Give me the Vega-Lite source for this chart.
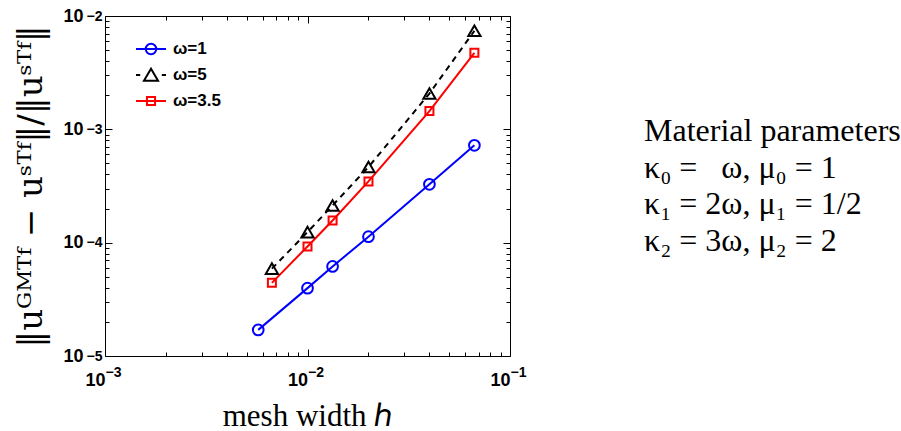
{
  "$schema": "https://vega.github.io/schema/vega-lite/v6.json",
  "background": "white",
  "padding": {"left": 14, "top": 7, "right": 0, "bottom": 0},
  "config": {
    "view": {"stroke": null},
    "concat": {"spacing": 117},
    "axis": {"labelFont": "Liberation Sans", "labelFontWeight": "bold", "labelColor": "black"}
  },
  "datasets": {
    "err": [
      {"series": "ω=1", "h": 0.00571, "err": 1.70e-5},
      {"series": "ω=1", "h": 0.01, "err": 3.97e-5},
      {"series": "ω=1", "h": 0.0133, "err": 6.17e-5},
      {"series": "ω=1", "h": 0.02, "err": 1.13e-4},
      {"series": "ω=1", "h": 0.04, "err": 3.27e-4},
      {"series": "ω=1", "h": 0.0667, "err": 7.22e-4},
      {"series": "ω=5", "h": 0.00667, "err": 5.9e-5},
      {"series": "ω=5", "h": 0.01, "err": 1.24e-4},
      {"series": "ω=5", "h": 0.0133, "err": 2.13e-4},
      {"series": "ω=5", "h": 0.02, "err": 4.65e-4},
      {"series": "ω=5", "h": 0.04, "err": 2.07e-3},
      {"series": "ω=5", "h": 0.0667, "err": 7.4e-3},
      {"series": "ω=3.5", "h": 0.00667, "err": 4.42e-5},
      {"series": "ω=3.5", "h": 0.01, "err": 9.26e-5},
      {"series": "ω=3.5", "h": 0.0133, "err": 1.57e-4},
      {"series": "ω=3.5", "h": 0.02, "err": 3.47e-4},
      {"series": "ω=3.5", "h": 0.04, "err": 1.45e-3},
      {"series": "ω=3.5", "h": 0.0667, "err": 4.73e-3}
    ],
    "params": [
      {"row": 0, "text": "Material parameters"},
      {"row": 1, "text": "κ₀ = \u2007ω,  μ₀ = 1"},
      {"row": 2, "text": "κ₁ = 2ω,  μ₁ = 1/2"},
      {"row": 3, "text": "κ₂ = 3ω,  μ₂ = 2"}
    ]
  },
  "hconcat": [
    {
      "width": 405,
      "height": 340,
      "data": {"name": "err"},
      "encoding": {
        "x": {"field": "h", "type": "quantitative", "scale": {"type": "log", "domain": [0.001, 0.1], "nice": false}, "axis": null},
        "y": {"field": "err", "type": "quantitative", "scale": {"type": "log", "domain": [0.00001, 0.01], "nice": false}, "axis": null},
        "color": {
          "field": "series", "type": "nominal",
          "scale": {"domain": ["ω=1", "ω=5", "ω=3.5"], "range": ["#0000ff", "#000000", "#ff0000"]},
          "legend": {
            "orient": "none", "legendX": 30, "legendY": 17,
            "title": null, "padding": 0,
            "labelFont": "Liberation Sans", "labelFontWeight": "bold", "labelFontSize": 17, "labelColor": "black",
            "labelOffset": 6, "symbolSize": 900, "rowPadding": -2,
            "symbolStrokeWidth": 2, "symbolFillColor": "transparent",
            "encode": {
              "symbols": {
                "update": {
                  "shape": {"signal": "datum.value === 'ω=1' ? 'M-1,0H1M0.35,0A0.35,0.35,0,1,1,-0.35,0A0.35,0.35,0,1,1,0.35,0' : datum.value === 'ω=5' ? 'M-1,0H-0.72M0.72,0H1M0,-0.42L-0.47,0.38L0.47,0.38Z' : 'M-1,0H1M-0.27,-0.27H0.27V0.27H-0.27Z'"},
                  "size": {"value": 900},
                  "strokeWidth": {"value": 2},
                  "fill": {"value": "transparent"}
                }
              }
            }
          }
        }
      },
      "layer": [
        {
          "transform": [{"filter": "datum.series !== 'ω=5'"}],
          "mark": {"type": "line", "strokeWidth": 2},
          "encoding": {
            "x": {
              "field": "h", "type": "quantitative",
              "axis": {
                "orient": "bottom",
                "values": [0.001, 0.002, 0.003, 0.004, 0.005, 0.006, 0.007, 0.008, 0.009, 0.01, 0.02, 0.03, 0.04, 0.05, 0.06, 0.07, 0.08, 0.09, 0.1],
                "labelExpr": "abs(log(datum.value)/LN10 - round(log(datum.value)/LN10)) < 1e-6 ? '10' : ''",
                "labelFont": "Liberation Sans", "labelFontWeight": "bold", "labelFontSize": 18, "labelColor": "black",
                "labelPadding": 22, "labelAlign": "right", "labelOverlap": false, "labelFlush": false,
                "tickColor": "black",
                "tickSize": {"condition": {"test": "abs(log(datum.value)/LN10 - round(log(datum.value)/LN10)) < 1e-6", "value": -7}, "value": -4},
                "domainColor": "black", "grid": false,
                "title": "mesh width ℎ", "titleFont": "Liberation Serif", "titleFontSize": 31, "titleFontWeight": "normal", "titleColor": "black", "titlePadding": 9
              }
            },
            "y": {
              "field": "err", "type": "quantitative",
              "axis": {
                "orient": "left",
                "values": [0.00001, 0.00002, 0.00003, 0.00004, 0.00005, 0.00006, 0.00007, 0.00008, 0.00009, 0.0001, 0.0002, 0.0003, 0.0004, 0.0005, 0.0006, 0.0007, 0.0008, 0.0009, 0.001, 0.002, 0.003, 0.004, 0.005, 0.006, 0.007, 0.008, 0.009, 0.01],
                "labelExpr": "abs(log(datum.value)/LN10 - round(log(datum.value)/LN10)) < 1e-6 ? '10' : ''",
                "labelFont": "Liberation Sans", "labelFontWeight": "bold", "labelFontSize": 18, "labelColor": "black",
                "labelPadding": 29, "labelDy": 1, "labelOverlap": false, "labelFlush": false,
                "tickColor": "black",
                "tickSize": {"condition": {"test": "abs(log(datum.value)/LN10 - round(log(datum.value)/LN10)) < 1e-6", "value": -7}, "value": -4},
                "domainColor": "black", "grid": false,
                "title": "‖uᴳᴹᵀᶠ − uˢᵀᶠ‖/‖uˢᵀᶠ‖", "titleFont": "DejaVu Serif", "titleFontSize": 34, "titleFontWeight": "normal", "titleColor": "black", "titlePadding": 14
              }
            }
          }
        },
        {
          "transform": [{"filter": "datum.series === 'ω=5'"}],
          "mark": {"type": "line", "strokeWidth": 2, "strokeDash": [6, 5]},
          "encoding": {
            "x": {
              "field": "h", "type": "quantitative",
              "axis": {
                "orient": "bottom", "values": [0.001, 0.01, 0.1],
                "labelExpr": "'−' + (-round(log(datum.value)/LN10))",
                "labelFont": "Liberation Sans", "labelFontWeight": "bold", "labelFontSize": 14, "labelColor": "black",
                "labelPadding": 9, "labelAlign": "left", "labelOverlap": false, "labelFlush": false,
                "ticks": false, "domain": false, "grid": false, "title": null
              }
            },
            "y": {
              "field": "err", "type": "quantitative",
              "axis": {
                "orient": "left", "values": [0.00001, 0.0001, 0.001, 0.01],
                "labelExpr": "'−' + (-round(log(datum.value)/LN10))",
                "labelFont": "Liberation Sans", "labelFontWeight": "bold", "labelFontSize": 14, "labelColor": "black",
                "labelPadding": 3, "labelDy": -11, "labelOverlap": false, "labelFlush": false,
                "ticks": false, "domain": false, "grid": false, "title": null
              }
            }
          }
        },
        {
          "transform": [{"filter": "datum.series === 'ω=1'"}],
          "mark": {"type": "point", "shape": "circle", "size": 115, "filled": false, "strokeWidth": 2, "opacity": 1}
        },
        {
          "transform": [{"filter": "datum.series === 'ω=5'"}],
          "mark": {"type": "point", "shape": "triangle-up", "size": 150, "filled": false, "strokeWidth": 2, "opacity": 1}
        },
        {
          "transform": [{"filter": "datum.series === 'ω=3.5'"}],
          "mark": {"type": "point", "shape": "square", "size": 64, "filled": false, "strokeWidth": 2, "opacity": 1}
        },
        {
          "mark": {"type": "point", "opacity": 0},
          "encoding": {
            "x": {
              "field": "h", "type": "quantitative",
              "axis": {
                "orient": "top", "labels": false, "title": null, "grid": false,
                "values": [0.001, 0.002, 0.003, 0.004, 0.005, 0.006, 0.007, 0.008, 0.009, 0.01, 0.02, 0.03, 0.04, 0.05, 0.06, 0.07, 0.08, 0.09, 0.1],
                "tickColor": "black", "domainColor": "black",
                "tickSize": {"condition": {"test": "abs(log(datum.value)/LN10 - round(log(datum.value)/LN10)) < 1e-6", "value": -7}, "value": -4}
              }
            },
            "y": {
              "field": "err", "type": "quantitative",
              "axis": {
                "orient": "right", "labels": false, "title": null, "grid": false,
                "values": [0.00001, 0.00002, 0.00003, 0.00004, 0.00005, 0.00006, 0.00007, 0.00008, 0.00009, 0.0001, 0.0002, 0.0003, 0.0004, 0.0005, 0.0006, 0.0007, 0.0008, 0.0009, 0.001, 0.002, 0.003, 0.004, 0.005, 0.006, 0.007, 0.008, 0.009, 0.01],
                "tickColor": "black", "domainColor": "black",
                "tickSize": {"condition": {"test": "abs(log(datum.value)/LN10 - round(log(datum.value)/LN10)) < 1e-6", "value": -7}, "value": -4}
              }
            }
          }
        }
      ],
      "resolve": {"axis": {"x": "independent", "y": "independent"}}
    },
    {
      "width": 2,
      "height": 340,
      "data": {"name": "params"},
      "mark": {"type": "text", "align": "left", "baseline": "middle", "font": "Liberation Serif", "fontSize": 32, "color": "black"},
      "encoding": {
        "y": {"field": "row", "type": "quantitative", "scale": {"domain": [-3.16, 6.16], "reverse": true, "nice": false, "zero": false}, "axis": null},
        "text": {"field": "text", "type": "nominal"}
      }
    }
  ]
}
